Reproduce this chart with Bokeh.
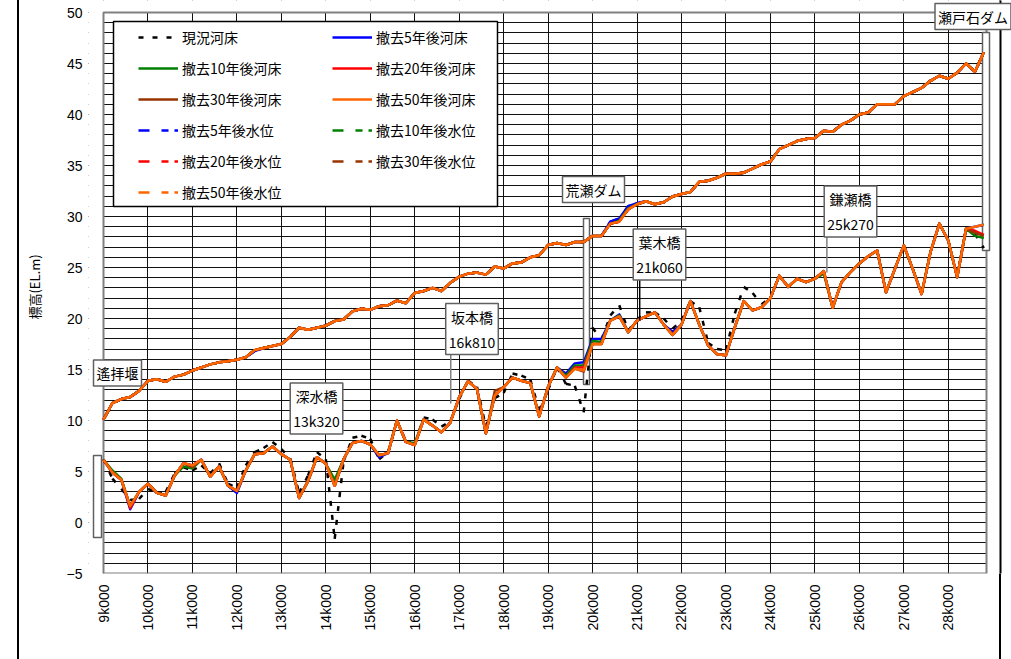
import math
from bokeh.plotting import figure
from bokeh.models import (Range1d, FixedTicker, ColumnDataSource, Legend, LegendItem,
                          Label, BoxAnnotation)
from bokeh.embed import file_html
from bokeh.resources import INLINE

# ---------------------------------------------------------------- data
# survey cross-sections every 200 m, 9k000 .. 28k800
stations = [round(9.0 + 0.2 * i, 1) for i in range(100)]

km_ticks = list(range(9, 29))
km_tick_labels = ["9k000", "10k000", "11k000", "12k000", "13k000", "14k000", "15k000",
                  "16k000", "17k000", "18k000", "19k000", "20k000", "21k000", "22k000",
                  "23k000", "24k000", "25k000", "26k000", "27k000", "28k000"]
el_ticks = [-5, 0, 5, 10, 15, 20, 25, 30, 35, 40, 45, 50]
el_tick_labels = ["−5", "0", "5", "10", "15", "20", "25", "30", "35", "40", "45", "50"]

# 現況河床 (present riverbed)
bed_now = [
    6.2, 4.3, 3.3, 2.2, 2.3, 3.3, 2.9, 3.0, 4.8, 5.4,
    5.1, 5.6, 4.8, 5.8, 3.8, 3.4, 5.6, 6.9, 7.3, 7.9,
    7.2, 6.3, 2.9, 4.6, 6.9, 6.2, -1.6, 6.0, 8.3, 8.5,
    8.2, 6.2, 6.9, 10.0, 8.0, 7.7, 10.3, 10.1, 9.4, 9.9,
    12.1, 13.9, 13.3, 9.4, 12.2, 12.7, 14.6, 14.4, 14.0, 11.0,
    13.0, 15.2, 13.6, 13.4, 10.8, 19.1, 17.9, 20.3, 21.3, 18.8,
    19.9, 20.6, 20.6, 20.0, 19.0, 19.8, 21.7, 21.1, 17.6, 17.0,
    16.9, 20.5, 23.1, 22.5, 21.4, 22.0, 24.2, 23.1, 23.9, 23.56,
    23.9, 24.64, 21.05, 23.56, 24.54, 25.4, 26.1, 26.67, 22.58, 24.87,
    27.16, 24.87, 22.4, 26.5, 29.3, 27.65, 24.05, 28.8, 28.3, 26.9,
]

# 撤去50年後河床
bed_50y = [
    6.15, 4.9, 4.2, 1.6, 3.0, 3.8, 2.9, 2.65, 4.6, 5.8,
    5.6, 6.15, 4.5, 5.5, 3.6, 3.1, 5.1, 6.7, 6.8, 7.45,
    6.7, 6.15, 2.4, 4.05, 6.4, 5.75, 3.6, 6.2, 7.8, 8.0,
    7.65, 6.6, 6.8, 10.0, 7.9, 7.6, 10.1, 9.5, 8.85, 9.8,
    12.3, 13.85, 13.1, 8.75, 12.45, 13.27, 14.2, 13.9, 13.66, 10.4,
    13.3, 15.2, 14.2, 15.07, 14.9, 17.5, 17.5, 19.8, 20.2, 18.66,
    19.8, 20.2, 20.6, 19.4, 18.4, 19.4, 21.7, 19.4, 17.35, 16.5,
    16.4, 19.15, 21.7, 20.8, 21.1, 22.0, 24.2, 23.1, 23.9, 23.56,
    23.9, 24.64, 21.05, 23.56, 24.54, 25.4, 26.1, 26.67, 22.58, 24.87,
    27.16, 24.87, 22.4, 26.5, 29.3, 27.65, 24.05, 28.8, 29.0, 29.2,
]

# 撤去50年後水位
wl_50y = [
    10.1, 11.7, 12.1, 12.3, 12.9, 13.9, 14.05, 13.8, 14.3, 14.5,
    14.9, 15.2, 15.5, 15.7, 15.8, 15.95, 16.2, 16.9, 17.1, 17.3,
    17.5, 18.2, 19.1, 18.9, 19.1, 19.3, 19.75, 19.9, 20.7, 20.95,
    20.85, 21.2, 21.3, 21.75, 21.5, 22.5, 22.7, 23.0, 22.7, 23.5,
    24.1, 24.4, 24.5, 24.3, 25.1, 24.9, 25.4, 25.5, 26.0, 26.2,
    27.2, 27.4, 27.2, 27.5, 27.5, 28.1, 28.1, 29.3, 29.5, 30.7,
    31.2, 31.5, 31.2, 31.4, 31.96, 32.2, 32.4, 33.4, 33.5, 33.8,
    34.2, 34.2, 34.3, 34.7, 35.1, 35.4, 36.6, 37.0, 37.4, 37.6,
    37.7, 38.4, 38.3, 39.0, 39.4, 40.0, 40.2, 41.0, 41.0, 41.0,
    41.8, 42.2, 42.6, 43.3, 43.8, 43.5, 44.1, 45.0, 44.2, 46.1,
]

# sections where the earlier stages differ from the 50-year profile
bed_5y_diff = {9.6: 1.3, 12.0: 2.9, 15.2: 6.4, 19.4: 14.6, 19.6: 15.6, 19.8: 15.7,
               20.0: 18.0, 20.2: 18.0, 20.6: 20.4, 21.8: 18.7}
bed_10y_diff = {9.2: 5.1, 9.4: 4.3, 10.8: 5.5, 11.0: 5.3, 14.2: 4.2, 15.8: 7.9, 16.0: 7.8,
                19.4: 14.4, 19.6: 15.4, 19.8: 15.4, 20.0: 17.8, 20.2: 17.7, 20.6: 20.3,
                25.2: 24.4, 28.6: 28.1, 28.8: 27.9}
bed_20y_diff = {9.6: 1.4, 19.6: 15.2, 19.8: 15.2, 28.6: 28.6, 28.8: 28.2}
bed_30y_diff = {11.0: 5.4, 17.8: 12.9, 19.6: 15.1, 19.8: 14.8, 28.6: 28.4, 28.8: 28.1}
wl_5y_diff = {12.4: 16.8, 20.4: 29.5, 20.6: 29.8, 20.8: 31.0, 21.0: 31.3}
wl_10y_diff = {20.6: 29.6, 20.8: 30.8}
wl_20y_diff = {}
wl_30y_diff = {}


def with_changes(base, changes):
    out = list(base)
    for km, v in changes.items():
        out[stations.index(km)] = v
    return out


bed_5y = with_changes(bed_50y, bed_5y_diff)
bed_10y = with_changes(bed_50y, bed_10y_diff)
bed_20y = with_changes(bed_50y, bed_20y_diff)
bed_30y = with_changes(bed_50y, bed_30y_diff)
wl_5y = with_changes(wl_50y, wl_5y_diff)
wl_10y = with_changes(wl_50y, wl_10y_diff)
wl_20y = with_changes(wl_50y, wl_20y_diff)
wl_30y = with_changes(wl_50y, wl_30y_diff)

# ---------------------------------------------------------------- layout
W, H = 1011, 659
DL, DR, DT, DB = 103, 986, 12, 573      # plotting area (px): 9k000..right end, 50..-5 m
FL, FR, FT, FB = 88, 1011, 0, 573       # canvas frame, a little wider for call-out labels
KM_PER_PX = (28.86 - 9.0) / (DR - DL)
M_PER_PX = 55.0 / (DB - DT)


def px_x(px):
    return 9.0 + (px - DL) * KM_PER_PX


def px_y(py):
    return 50.0 - (py - DT) * M_PER_PX


JP = "Noto Sans CJK JP"
LAT = "Liberation Sans"

BLUE, GREEN, RED, BROWN, ORANGE = "#0000FF", "#008000", "#FF0000", "#993300", "#FF6600"

p = figure(width=W, height=H, x_range=Range1d(px_x(FL), px_x(FR)),
           y_range=Range1d(px_y(FB), px_y(FT)),
           output_backend="svg", toolbar_location=None,
           min_border_left=FL, min_border_right=W - FR,
           min_border_top=FT, min_border_bottom=H - FB)
p.background_fill_color = "white"
p.border_fill_alpha = 0
p.outline_line_color = None
# sheet border lines running down the whole page
p.styles = {"background": "linear-gradient(to right, #ffffff 0px, #ffffff 17px, #000000 17px, "
                          "#000000 19px, #ffffff 19px, #ffffff 999px, #000000 999px, "
                          "#000000 1001px, #ffffff 1001px, #ffffff 100%)"}

# axes
p.xaxis.ticker = FixedTicker(ticks=km_ticks)
p.xaxis.major_label_overrides = dict(zip(km_ticks, km_tick_labels))
p.xaxis.major_label_orientation = math.pi / 2
p.xaxis.major_label_text_font = LAT
p.xaxis.major_label_text_font_size = "14px"
p.xaxis.major_label_text_color = "black"
p.xaxis.major_label_standoff = 5
p.xaxis.axis_line_color = None
p.xaxis.major_tick_line_color = None
p.xaxis.minor_tick_line_color = None

p.yaxis.ticker = FixedTicker(ticks=el_ticks, minor_ticks=list(range(-5, 51)))
p.yaxis.major_label_overrides = dict(zip(el_ticks, el_tick_labels))
p.yaxis.major_label_text_font = LAT
p.yaxis.major_label_text_font_size = "14px"
p.yaxis.major_label_text_color = "black"
p.yaxis.major_label_standoff = 0
p.yaxis.axis_line_color = None
p.yaxis.major_tick_line_color = None
p.yaxis.minor_tick_line_color = None
p.yaxis.axis_label = "標高(EL.m)"
p.yaxis.axis_label_text_font = JP
p.yaxis.axis_label_text_font_size = "13px"
p.yaxis.axis_label_text_font_style = "normal"
p.yaxis.axis_label_text_color = "black"
p.yaxis.axis_label_standoff = 20

p.xgrid.grid_line_color = "#111111"
p.ygrid.grid_line_color = "#111111"
p.ygrid.minor_grid_line_color = "#111111"
p.xgrid.level = "image"
p.ygrid.level = "image"


def screen_box(l, r, t, b, **kw):
    box = BoxAnnotation(left=px_x(l), right=px_x(r), top=px_y(t), bottom=px_y(b), **kw)
    p.add_layout(box)
    return box


# keep the grid inside the plotting area
for (l, r, t, b) in [(FL, DL - 0.5, FT, FB), (DR + 0.5, FR, FT, FB), (FL, FR, FT, DT - 0.5)]:
    screen_box(l, r, t, b, fill_color="white", fill_alpha=1, line_alpha=0, level="underlay")

# plotting-area border and right sheet border
screen_box(DL, DR, DT, DB, fill_alpha=0, line_color="#808080", line_width=2, line_alpha=1,
           level="underlay")
screen_box(999, 1001, FT - 5, FB + 5, fill_color="black", fill_alpha=1, line_alpha=0,
           level="underlay")

# dam / weir call-out bars
for (l, r, t, b) in [(93, 101, 455, 537), (583, 589, 218, 384), (982, 989, 32, 250)]:
    screen_box(l, r, t, b, fill_color="white", fill_alpha=1, line_color="#606060",
               line_width=1.5, line_alpha=1, level="underlay")

# riverbeds
r_now = p.segment("x0", "y0", "x1", "y1",
                  source=ColumnDataSource(dict(x0=stations[:-1], x1=stations[1:],
                                               y0=bed_now[:-1], y1=bed_now[1:])),
                  line_color="black", line_width=2.5, line_dash="5 9")
renderers = {}
for name, vals, col in [("撤去5年後河床", bed_5y, BLUE), ("撤去10年後河床", bed_10y, GREEN),
                        ("撤去20年後河床", bed_20y, RED), ("撤去30年後河床", bed_30y, BROWN),
                        ("撤去50年後河床", bed_50y, ORANGE)]:
    renderers[name] = p.line(stations, vals, line_color=col, line_width=2.5, line_join="round")

# water levels: dash-dot series (as keyed in the legend); the sections are so
# short that each one stays inside the first dash, so the profiles are traced
# over as continuous lines
wl_series = [("撤去5年後水位", wl_5y, BLUE), ("撤去10年後水位", wl_10y, GREEN),
             ("撤去20年後水位", wl_20y, RED), ("撤去30年後水位", wl_30y, BROWN),
             ("撤去50年後水位", wl_50y, ORANGE)]
for name, vals, col in wl_series:
    renderers[name] = p.line(stations, vals, line_color=col, line_width=2.5,
                             line_dash="11 12 7 6")
for name, vals, col in wl_series:
    p.line(stations, vals, line_color=col, line_width=2.5, line_join="round")

# leader lines from bridge labels
p.segment(x0=[16.81, 21.06, 25.27], y0=[px_y(348), px_y(273), px_y(230)],
          x1=[16.81, 21.06, 25.27], y1=[px_y(403), px_y(320), px_y(272)],
          line_color=["#808080", "black", "#808080"], line_width=1.5)

# legend frame + two legend columns
screen_box(113, 497, 21, 206, fill_color="white", fill_alpha=1, line_color="black",
           line_width=1.5, line_alpha=1)


def make_legend(names, x, y):
    lg = Legend(items=[LegendItem(label=n, renderers=[r_now if n == "現況河床" else renderers[n]])
                       for n in names],
                location=(x, y), orientation="vertical", padding=0, margin=0,
                spacing=11, glyph_width=40, glyph_height=20, label_height=20,
                label_standoff=4, label_text_font=JP, label_text_font_size="14px",
                label_text_color="black", border_line_alpha=0, background_fill_alpha=0)
    p.add_layout(lg)


make_legend(["現況河床", "撤去10年後河床", "撤去30年後河床", "撤去5年後水位", "撤去20年後水位",
             "撤去50年後水位"], 138 - FL, FB - 202)
make_legend(["撤去5年後河床", "撤去20年後河床", "撤去50年後河床", "撤去10年後水位",
             "撤去30年後水位"], 332 - FL, FB - 171)

# place-name labels
for text, cx, cy in [("遙拝堰", 117, 372.5), ("深水橋\n13k320", 316, 408),
                     ("坂本橋\n16k810", 471.5, 328.5), ("荒瀬ダム", 593, 189),
                     ("葉木橋\n21k060", 659, 254), ("鎌瀬橋\n25k270", 850, 211),
                     ("瀬戸石ダム", 972.5, 16)]:
    p.add_layout(Label(x=px_x(cx), y=px_y(cy), text=text, text_align="center",
                       text_baseline="middle", text_font=JP, text_font_size="14px",
                       text_color="black", text_line_height=1.25,
                       background_fill_color="white", background_fill_alpha=1,
                       border_line_color="#606060", border_line_width=1.5, padding=3))

open("out.html", "w").write(file_html(p, INLINE))
